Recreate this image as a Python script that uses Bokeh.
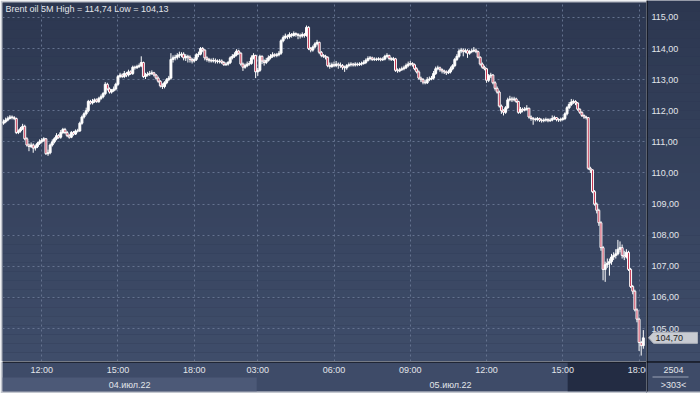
import numpy as np
from bokeh.plotting import figure
from bokeh.models import ColumnDataSource, FixedTicker, Range1d, Label
from bokeh.layouts import column, row
from bokeh.embed import file_html
from bokeh.resources import INLINE
from bokeh.core.properties import value

# ---------------- data ----------------
title_text = "Brent oil 5M High = 114,74 Low = 104,13"

opens = [
    111.60, 111.65, 111.70, 111.75, 111.80, 111.78, 111.75, 111.30, 111.35, 111.42,
    111.50, 111.10, 110.90, 110.85, 110.90, 110.80, 110.85, 110.95, 111.00, 111.05,
    111.10, 110.62, 110.65, 110.90, 111.00, 111.10, 111.20, 111.15, 111.30, 111.40,
    111.30, 111.20, 111.15, 111.30, 111.25, 111.35, 111.35, 111.60, 111.80, 111.90,
    112.00, 112.30, 112.25, 112.30, 112.35, 112.30, 112.40, 112.45, 112.55, 112.85,
    112.70, 112.60, 112.65, 112.70, 112.85, 113.10, 113.15, 113.10, 113.20, 113.15,
    113.25, 113.20, 113.40, 113.38, 113.42, 113.45, 113.55, 113.10, 113.15, 113.18,
    113.20, 113.22, 113.15, 113.05, 112.95, 112.80, 112.78, 112.90, 113.00, 113.05,
    113.65, 113.70, 113.72, 113.78, 113.80, 113.82, 113.70, 113.75, 113.72, 113.65,
    113.60, 113.65, 113.80, 113.82, 114.00, 113.95, 113.70, 113.65, 113.62, 113.60,
    113.62, 113.60, 113.58, 113.60, 113.55, 113.48, 113.50, 113.55, 113.70, 113.75,
    113.80, 113.92, 113.85, 113.50, 113.40, 113.45, 113.50, 113.52, 113.70, 113.78,
    113.25, 113.30, 113.75, 113.60, 113.55, 113.62, 113.70, 113.75, 113.80, 113.78,
    113.80, 113.85, 114.25, 114.35, 114.40, 114.38, 114.45, 114.42, 114.48, 114.45,
    114.42, 114.40, 114.45, 114.42, 114.68, 114.00, 113.95, 114.05, 114.15, 114.20,
    113.88, 113.78, 113.75, 113.72, 113.45, 113.42, 113.48, 113.45, 113.50, 113.47,
    113.45, 113.40, 113.38, 113.45, 113.48, 113.50, 113.47, 113.50, 113.48, 113.50,
    113.52, 113.55, 113.62, 113.68, 113.70, 113.65, 113.66, 113.65, 113.67, 113.64,
    113.66, 113.75, 113.78, 113.68, 113.65, 113.67, 113.30, 113.28, 113.32, 113.35,
    113.38, 113.45, 113.50, 113.52, 113.48, 113.35, 113.25, 113.05, 113.00, 112.92,
    112.90, 113.00, 113.02, 113.05, 113.20, 113.35, 113.38, 113.32, 113.28, 113.25,
    113.22, 113.25, 113.35, 113.45, 113.65, 113.75, 113.92, 113.95, 113.90, 113.93,
    113.85, 113.90, 113.92, 113.95, 113.90, 113.72, 113.50, 113.40, 113.35, 112.98,
    113.12, 113.15, 112.90, 112.72, 112.60, 112.15, 112.00, 111.95, 112.10, 112.35,
    112.38, 112.35, 112.38, 112.30, 111.95, 112.05, 112.02, 112.05, 112.08, 111.80,
    111.75, 111.73, 111.72, 111.75, 111.70, 111.68, 111.70, 111.72, 111.68, 111.70,
    111.75, 111.78, 111.72, 111.70, 111.72, 111.75, 111.90, 112.10, 112.20, 112.28,
    112.30, 112.25, 112.05, 111.95, 111.85, 111.80, 111.78, 110.15, 110.10, 109.40,
    109.00, 108.80, 108.40, 107.60, 106.90, 107.05, 107.10, 107.15, 107.30, 107.35,
    107.40, 107.55, 107.60, 107.35, 107.30, 107.45, 106.90, 106.35, 106.20, 105.60,
    105.30, 104.55, 104.45,
]

closes = [
    111.65, 111.70, 111.75, 111.80, 111.78, 111.75, 111.30, 111.35, 111.42, 111.50,
    111.10, 110.90, 110.85, 110.90, 110.80, 110.85, 110.95, 111.00, 111.05, 111.10,
    110.62, 110.65, 110.90, 111.00, 111.10, 111.20, 111.15, 111.30, 111.40, 111.30,
    111.20, 111.15, 111.30, 111.25, 111.35, 111.35, 111.60, 111.80, 111.90, 112.00,
    112.30, 112.25, 112.30, 112.35, 112.30, 112.40, 112.45, 112.55, 112.85, 112.70,
    112.60, 112.65, 112.70, 112.85, 113.10, 113.15, 113.10, 113.20, 113.15, 113.25,
    113.20, 113.40, 113.38, 113.42, 113.45, 113.55, 113.10, 113.15, 113.18, 113.20,
    113.22, 113.15, 113.05, 112.95, 112.80, 112.78, 112.90, 113.00, 113.05, 113.65,
    113.70, 113.72, 113.78, 113.80, 113.82, 113.70, 113.75, 113.72, 113.65, 113.60,
    113.65, 113.80, 113.82, 114.00, 113.95, 113.70, 113.65, 113.62, 113.60, 113.62,
    113.60, 113.58, 113.60, 113.55, 113.48, 113.50, 113.55, 113.70, 113.75, 113.80,
    113.92, 113.85, 113.50, 113.40, 113.45, 113.50, 113.52, 113.70, 113.78, 113.25,
    113.30, 113.75, 113.60, 113.55, 113.62, 113.70, 113.75, 113.80, 113.78, 113.80,
    113.85, 114.25, 114.35, 114.40, 114.38, 114.45, 114.42, 114.48, 114.45, 114.42,
    114.40, 114.45, 114.42, 114.68, 114.00, 113.95, 114.05, 114.15, 114.20, 113.88,
    113.78, 113.75, 113.72, 113.45, 113.42, 113.48, 113.45, 113.50, 113.47, 113.45,
    113.40, 113.38, 113.45, 113.48, 113.50, 113.47, 113.50, 113.48, 113.50, 113.52,
    113.55, 113.62, 113.68, 113.70, 113.65, 113.66, 113.65, 113.67, 113.64, 113.66,
    113.75, 113.78, 113.68, 113.65, 113.67, 113.30, 113.28, 113.32, 113.35, 113.38,
    113.45, 113.50, 113.52, 113.48, 113.35, 113.25, 113.05, 113.00, 112.92, 112.90,
    113.00, 113.02, 113.05, 113.20, 113.35, 113.38, 113.32, 113.28, 113.25, 113.22,
    113.25, 113.35, 113.45, 113.65, 113.75, 113.92, 113.95, 113.90, 113.93, 113.85,
    113.90, 113.92, 113.95, 113.90, 113.72, 113.50, 113.40, 113.35, 112.98, 113.12,
    113.15, 112.90, 112.72, 112.60, 112.15, 112.00, 111.95, 112.10, 112.35, 112.38,
    112.35, 112.38, 112.30, 111.95, 112.05, 112.02, 112.05, 112.08, 111.80, 111.75,
    111.73, 111.72, 111.75, 111.70, 111.68, 111.70, 111.72, 111.68, 111.70, 111.75,
    111.78, 111.72, 111.70, 111.72, 111.75, 111.90, 112.10, 112.20, 112.28, 112.30,
    112.25, 112.05, 111.95, 111.85, 111.80, 111.78, 110.15, 110.10, 109.40, 109.00,
    108.80, 108.40, 107.60, 106.90, 107.05, 107.10, 107.15, 107.30, 107.35, 107.40,
    107.55, 107.60, 107.35, 107.30, 107.45, 106.90, 106.35, 106.20, 105.60, 105.30,
    104.55, 104.45, 104.70,
]

highs = [
    111.72, 111.78, 111.82, 111.86, 111.85, 111.83, 111.78, 111.40, 111.48, 111.58,
    111.55, 111.15, 110.95, 110.98, 110.95, 110.92, 111.00, 111.08, 111.12, 111.15,
    111.12, 110.75, 110.95, 111.08, 111.15, 111.28, 111.25, 111.38, 111.45, 111.45,
    111.35, 111.25, 111.35, 111.35, 111.40, 111.42, 111.65, 111.85, 111.95, 112.10,
    112.35, 112.35, 112.38, 112.40, 112.40, 112.45, 112.52, 112.60, 112.92, 112.90,
    112.75, 112.70, 112.78, 112.90, 113.15, 113.22, 113.20, 113.28, 113.25, 113.32,
    113.30, 113.45, 113.45, 113.48, 113.52, 113.75, 113.58, 113.22, 113.25, 113.28,
    113.30, 113.25, 113.18, 113.10, 112.98, 112.88, 112.95, 113.05, 113.12, 113.85,
    113.78, 113.80, 113.85, 113.90, 113.88, 113.88, 113.82, 113.80, 113.78, 113.70,
    113.72, 113.85, 113.90, 114.05, 114.05, 113.98, 113.75, 113.70, 113.68, 113.70,
    113.68, 113.65, 113.66, 113.65, 113.60, 113.56, 113.60, 113.75, 113.82, 113.88,
    113.98, 113.96, 113.88, 113.55, 113.52, 113.58, 113.60, 113.78, 113.85, 113.80,
    113.38, 113.80, 113.78, 113.65, 113.70, 113.78, 113.82, 113.88, 113.85, 113.86,
    113.92, 114.30, 114.42, 114.48, 114.45, 114.52, 114.50, 114.55, 114.52, 114.50,
    114.48, 114.52, 114.50, 114.74, 114.72, 114.05, 114.10, 114.20, 114.28, 114.22,
    113.92, 113.82, 113.80, 113.75, 113.55, 113.55, 113.58, 113.60, 113.55, 113.55,
    113.50, 113.45, 113.50, 113.55, 113.56, 113.54, 113.56, 113.55, 113.56, 113.58,
    113.62, 113.68, 113.75, 113.76, 113.74, 113.72, 113.71, 113.72, 113.71, 113.72,
    113.80, 113.85, 113.80, 113.72, 113.73, 113.70, 113.36, 113.38, 113.42, 113.45,
    113.52, 113.58, 113.60, 113.56, 113.52, 113.40, 113.30, 113.10, 113.05, 113.00,
    113.08, 113.10, 113.12, 113.28, 113.42, 113.45, 113.42, 113.36, 113.32, 113.30,
    113.32, 113.42, 113.50, 113.70, 113.82, 113.98, 114.02, 114.00, 114.00, 113.98,
    113.96, 114.00, 114.05, 114.00, 113.93, 113.75, 113.55, 113.45, 113.38, 113.18,
    113.22, 113.18, 112.95, 112.78, 112.65, 112.20, 112.05, 112.15, 112.42, 112.48,
    112.45, 112.45, 112.42, 112.32, 112.12, 112.10, 112.12, 112.18, 112.10, 111.85,
    111.80, 111.78, 111.80, 111.78, 111.75, 111.76, 111.78, 111.76, 111.76, 111.85,
    111.84, 111.80, 111.76, 111.78, 111.80, 111.95, 112.15, 112.28, 112.38, 112.36,
    112.34, 112.28, 112.08, 111.98, 111.88, 111.84, 111.80, 110.20, 110.12, 109.45,
    109.05, 108.85, 108.45, 107.65, 107.15, 107.25, 107.25, 107.40, 107.45, 107.55,
    107.85, 107.80, 107.70, 107.50, 107.55, 107.50, 106.95, 106.40, 106.25, 105.65,
    105.35, 104.60, 104.95,
]

lows = [
    111.55, 111.60, 111.66, 111.72, 111.72, 111.70, 111.25, 111.25, 111.30, 111.38,
    111.05, 110.85, 110.70, 110.80, 110.65, 110.72, 110.80, 110.90, 110.95, 111.00,
    110.58, 110.55, 110.60, 110.85, 110.95, 111.05, 111.10, 111.10, 111.25, 111.25,
    111.15, 111.10, 111.12, 111.20, 111.22, 111.30, 111.32, 111.55, 111.75, 111.85,
    111.95, 112.20, 112.20, 112.25, 112.25, 112.25, 112.35, 112.40, 112.50, 112.65,
    112.55, 112.55, 112.60, 112.65, 112.80, 113.05, 113.05, 113.05, 113.08, 113.10,
    113.15, 113.15, 113.32, 113.35, 113.38, 113.40, 113.05, 113.02, 113.10, 113.12,
    113.15, 113.10, 113.00, 112.90, 112.75, 112.70, 112.72, 112.85, 112.95, 113.00,
    113.55, 113.62, 113.65, 113.70, 113.72, 113.62, 113.60, 113.55, 113.55, 113.52,
    113.55, 113.60, 113.72, 113.78, 113.88, 113.62, 113.58, 113.55, 113.55, 113.55,
    113.52, 113.52, 113.52, 113.50, 113.44, 113.44, 113.45, 113.50, 113.65, 113.70,
    113.75, 113.80, 113.45, 113.28, 113.35, 113.40, 113.45, 113.48, 113.65, 113.05,
    113.12, 113.25, 113.50, 113.45, 113.50, 113.58, 113.65, 113.70, 113.72, 113.72,
    113.75, 113.80, 114.20, 114.30, 114.30, 114.32, 114.35, 114.38, 114.38, 114.30,
    114.32, 114.35, 114.35, 114.38, 113.95, 113.88, 113.90, 114.00, 114.10, 113.82,
    113.72, 113.70, 113.65, 113.40, 113.35, 113.38, 113.40, 113.40, 113.35, 113.38,
    113.32, 113.25, 113.32, 113.40, 113.42, 113.42, 113.42, 113.43, 113.44, 113.45,
    113.48, 113.50, 113.58, 113.62, 113.60, 113.60, 113.60, 113.61, 113.59, 113.60,
    113.62, 113.70, 113.62, 113.60, 113.60, 113.25, 113.22, 113.24, 113.28, 113.30,
    113.34, 113.40, 113.45, 113.42, 113.30, 113.20, 113.00, 112.92, 112.85, 112.85,
    112.86, 112.95, 112.98, 113.00, 113.15, 113.30, 113.25, 113.20, 113.18, 113.15,
    113.18, 113.20, 113.30, 113.40, 113.60, 113.70, 113.85, 113.75, 113.85, 113.70,
    113.80, 113.85, 113.88, 113.85, 113.68, 113.45, 113.35, 113.30, 112.90, 112.92,
    113.05, 112.85, 112.65, 112.55, 112.10, 111.90, 111.85, 111.90, 112.05, 112.30,
    112.28, 112.30, 112.25, 111.90, 111.90, 111.95, 111.98, 112.00, 111.75, 111.68,
    111.55, 111.66, 111.66, 111.64, 111.62, 111.63, 111.65, 111.63, 111.64, 111.66,
    111.70, 111.66, 111.64, 111.65, 111.68, 111.70, 111.85, 112.05, 112.15, 112.22,
    112.18, 112.00, 111.90, 111.80, 111.74, 111.72, 110.10, 110.00, 109.35, 108.95,
    108.70, 108.30, 107.50, 106.55, 106.50, 106.95, 106.70, 107.05, 107.20, 107.25,
    107.35, 107.45, 107.25, 107.20, 107.25, 106.85, 106.30, 106.10, 105.55, 105.20,
    104.28, 104.13, 104.35,
]

time_tick_index = [18, 54, 90, 120, 156, 192, 228, 264, 300]
time_tick_labels = ["12:00", "15:00", "18:00", "03:00", "06:00", "09:00", "12:00", "15:00", "18:00"]

day_labels = ["04.июл.22", "05.июл.22"]
day_first_index = [0, 120]
day_last_index = [119, 302]

price_ticks = [105, 106, 107, 108, 109, 110, 111, 112, 113, 114, 115]
price_tick_labels = ["105,00", "106,00", "107,00", "108,00", "109,00", "110,00",
                     "111,00", "112,00", "113,00", "114,00", "115,00"]

last_price = 104.70
last_price_label = "104,70"
total_bars_label = "2504"
visible_bars_label = ">303<"

# ---------------- styling / layout constants ----------------
FONT = "Liberation Sans"
FS = "9px"
TXT = "#e2e5ea"
UP_FILL = "#ffffff"
DOWN_FILL = "#c0213f"
BG_TOP = (44, 55, 80)
BG_BOT = (63, 77, 106)
STRIP = "#3e4b68"
STRIP_DAY = "#4c5977"
DARK = "#232c43"
EDGE = "#c3c7cf"

MAIN_W, RIGHT_W = 646, 54
TOP_B, FRAME_H, STRIP_H, EDGE_B = 2, 359, 30, 2
TOTAL_H = TOP_B + FRAME_H + STRIP_H + EDGE_B   # 393

n = len(closes)
idx = list(range(n))
X0, X1 = -0.5, n + 0.5
Y0, Y1 = 103.94, 115.48
px_per_unit = FRAME_H / (Y1 - Y0)
overlay_from = 266.3                      # start of the darkened tail of the time strip

body_top = [max(o, c) for o, c in zip(opens, closes)]
body_bot = [min(o, c) for o, c in zip(opens, closes)]
fills = [UP_FILL if c >= o else DOWN_FILL for o, c in zip(opens, closes)]
src = ColumnDataSource(dict(x=idx, high=highs, low=lows, top=body_top, bottom=body_bot, fill=fills))


def gradient(nb=40):
    edges = np.linspace(Y0, Y1, nb + 1)
    cols = []
    for k in range(nb):
        t = (k + 0.5) / nb
        c = [int(round(BG_BOT[j] + (BG_TOP[j] - BG_BOT[j]) * t)) for j in range(3)]
        cols.append("#%02x%02x%02x" % tuple(c))
    return edges[:-1], edges[1:], cols


# ---------------- main chart ----------------
p = figure(width=MAIN_W, height=TOP_B + FRAME_H, x_range=Range1d(X0, X1), y_range=Range1d(Y0, Y1),
           output_backend="svg", toolbar_location=None, x_axis_location=None, y_axis_location=None,
           min_border_left=2, min_border_right=0, min_border_top=TOP_B, min_border_bottom=0)
p.background_fill_color = "#%02x%02x%02x" % BG_TOP
p.border_fill_color = EDGE
p.outline_line_color = None

gb, gt, gc = gradient()
p.quad(left=X0, right=X1, bottom=gb, top=gt, fill_color=gc, line_color=None, level="image")

p.xgrid.ticker = FixedTicker(ticks=time_tick_index)
p.ygrid.ticker = FixedTicker(ticks=price_ticks)
p.grid.grid_line_color = "#64728f"
p.grid.grid_line_dash = "2 3"
p.grid.grid_line_width = 1

p.segment(x0="x", y0="low", x1="x", y1="high", source=src, line_color="white", line_width=1)
p.vbar(x="x", width=0.9, top="top", bottom="bottom", source=src,
       fill_color="fill", line_color="white", line_width=1)

p.add_layout(Label(x=3, y=FRAME_H - 6, x_units="screen", y_units="screen", text=title_text,
                   text_font=FONT, text_font_size=FS, text_color=TXT, text_baseline="middle"))

# ---------------- time / date strip (y in pixels from strip bottom) ----------------
d = figure(width=MAIN_W, height=STRIP_H + EDGE_B, x_range=p.x_range, y_range=Range1d(0, STRIP_H),
           output_backend="svg", toolbar_location=None,
           x_axis_location=None, y_axis_location=None,
           min_border_left=2, min_border_right=0, min_border_top=0, min_border_bottom=EDGE_B)
d.grid.visible = False
d.outline_line_color = None
d.background_fill_color = STRIP
d.border_fill_color = EDGE

day_left = [f - 0.5 for f in day_first_index]
day_right = [l + 0.5 for l in day_last_index]
day_mid = [(a + b) / 2 for a, b in zip(day_first_index, day_last_index)]
d.quad(left=day_left[0], right=day_right[0], bottom=0, top=14, fill_color=STRIP_DAY, line_color=None)
d.quad(left=overlay_from, right=X1, bottom=0, top=STRIP_H - 1, fill_color=DARK, line_color=None)
d.segment(x0=[X0], y0=[STRIP_H - 0.5], x1=[X1], y1=[STRIP_H - 0.5], line_color="black", line_width=1)
d.text(x=time_tick_index, y=[22] * len(time_tick_index), text=time_tick_labels, text_font=value(FONT),
       text_font_size=value(FS), text_color=TXT, text_align="center", text_baseline="middle")
d.text(x=day_mid, y=[7] * len(day_mid), text=day_labels, text_font=value(FONT),
       text_font_size=value(FS), text_color=TXT, text_align="center", text_baseline="middle")

# ---------------- right price panel ----------------
r_top = Y1 + TOP_B / px_per_unit
r_bot = Y0 - (STRIP_H + EDGE_B) / px_per_unit
r = figure(width=RIGHT_W, height=TOTAL_H, x_range=Range1d(0, RIGHT_W), y_range=Range1d(r_bot, r_top),
           output_backend="svg", toolbar_location=None, x_axis_location=None, y_axis_location=None,
           min_border_left=0, min_border_right=0, min_border_top=0, min_border_bottom=0)
r.grid.visible = False
r.outline_line_color = None
r.background_fill_color = "#%02x%02x%02x" % BG_TOP
r.border_fill_color = STRIP

r.quad(left=0, right=RIGHT_W, bottom=gb, top=gt, fill_color=gc, line_color=None, level="image")
r.quad(left=0, right=RIGHT_W, bottom=r_bot, top=Y0, fill_color=STRIP, line_color=None)
r.quad(left=0, right=RIGHT_W, bottom=r_bot, top=r_bot + EDGE_B / px_per_unit, fill_color=EDGE, line_color=None)

# price tick labels
r.text(x=[5] * len(price_ticks), y=price_ticks, text=price_tick_labels, text_font=value(FONT),
       text_font_size=value(FS), text_color=TXT, text_align="left", text_baseline="middle")

# last price tag
h = 5.5 / px_per_unit
r.patch(x=[2, 7, 51, 51, 7], y=[last_price, last_price + h, last_price + h, last_price - h, last_price - h],
        fill_color="#c9ccd2", line_color="#aeb3bb", line_width=1)
r.text(x=[9], y=[last_price], text=[last_price_label], text_font=value(FONT),
       text_font_size=value(FS), text_color="#1e1e1e", text_align="left", text_baseline="middle")

# bar counters below
y_row1 = Y0 - 8 / px_per_unit
y_sep = Y0 - 15.5 / px_per_unit
y_row2 = Y0 - 23 / px_per_unit
r.text(x=[27, 27], y=[y_row1, y_row2], text=[total_bars_label, visible_bars_label],
       text_font=value(FONT), text_font_size=value(FS), text_color=TXT,
       text_align="center", text_baseline="middle")
r.segment(x0=[6], y0=[y_sep], x1=[42], y1=[y_sep], line_color="#9aa3b5", line_width=1)

# black frame lines
r.segment(x0=[0.5, 0], y0=[r_bot + EDGE_B / px_per_unit, Y0 - 0.5 / px_per_unit],
          x1=[0.5, RIGHT_W], y1=[r_top, Y0 - 0.5 / px_per_unit], line_color="black", line_width=1)

layout = row(column(p, d, spacing=0), r, spacing=0)
open("out.html", "w").write(file_html(layout, INLINE))
